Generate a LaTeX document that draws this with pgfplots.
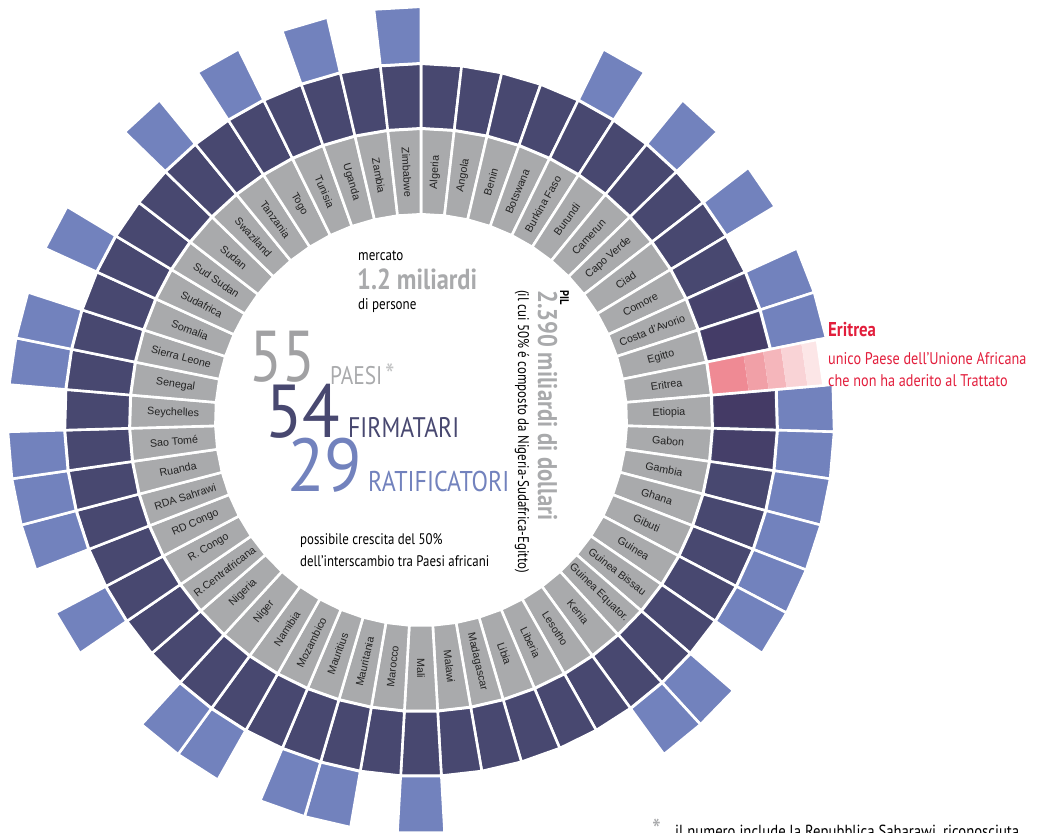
\documentclass[border=0pt]{standalone}
\usepackage{pgfplots}
\usepackage{pgfplotstable}
\pgfplotsset{compat=1.18}
\usepackage{fontspec}
\setmainfont{Liberation Sans}
\newfontfamily\cond[FakeStretch=0.84]{PT Sans}
\newfontfamily\condw[FakeStretch=0.92]{PT Sans}
\definecolor{cgray}{RGB}{169,170,172}
\definecolor{cdark}{RGB}{72,72,112}
\definecolor{cblue}{RGB}{114,130,189}
\definecolor{cred}{RGB}{226,30,60}
\definecolor{ctxt}{RGB}{35,35,35}
\definecolor{ctint}{RGB}{60,30,80}
\definecolor{pkA}{RGB}{239,138,148}
\definecolor{pkB}{RGB}{241,160,167}
\definecolor{pkC}{RGB}{245,182,187}
\definecolor{pkD}{RGB}{249,211,214}
\definecolor{pkE}{RGB}{252,230,231}
\newcommand\lblfont{\fontsize{10.7}{12.5}\selectfont}

\pgfplotstableread[col sep=semicolon]{
country;signed;ratified
Algeria;1;0
Angola;1;0
Benin;1;0
Botswana;1;0
Burkina Faso;1;1
Burundi;1;0
Camerun;1;1
Capo Verde;1;0
Ciad;1;1
Comore;1;0
Costa d’Avorio;1;1
Egitto;1;1
Eritrea;0;0
Etiopia;1;1
Gabon;1;1
Gambia;1;1
Ghana;1;1
Gibuti;1;1
Guinea;1;1
Guinea Bissau;1;0
Guinea Equator.;1;1
Kenia;1;1
Lesotho;1;0
Liberia;1;0
Libia;1;0
Madagascar;1;0
Malawi;1;0
Mali;1;1
Marocco;1;0
Mauritania;1;1
Mauritius;1;1
Mozambico;1;0
Namibia;1;1
Niger;1;1
Nigeria;1;0
R.Centrafricana;1;0
R. Congo;1;1
RD Congo;1;0
RDA Sahrawi;1;1
Ruanda;1;1
Sao Tomé;1;1
Seychelles;1;0
Senegal;1;1
Sierra Leone;1;1
Somalia;1;0
Sudafrica;1;1
Sud Sudan;1;0
Sudan;1;0
Swaziland;1;1
Tanzania;1;0
Togo;1;1
Tunisia;1;0
Uganda;1;1
Zambia;1;0
Zimbabwe;1;1
}\africa

\begin{document}
\begin{tikzpicture}[x=1pt,y=1pt]
\useasboundingbox (0,0) rectangle (1037,833);
\clip (0,0) rectangle (1037,833);
\begin{axis}[at={(0,0)}, anchor=south west, scale only axis,
  width=1037pt, height=833pt,
  xmin=-421, xmax=616, ymin=-413, ymax=420,
  hide axis, clip=false]
\pgfplotsforeachungrouped \i in {0,...,54}{%
  \pgfplotstablegetelem{\i}{country}\of\africa \let\cname\pgfplotsretval
  \pgfplotstablegetelem{\i}{signed}\of\africa \let\csig\pgfplotsretval
  \pgfplotstablegetelem{\i}{ratified}\of\africa \let\crat\pgfplotsretval
  \pgfmathsetmacro\aA{90-\i*(360/55)}%
  \pgfmathsetmacro\aB{90-(\i+1)*(360/55)}%
  \pgfmathsetmacro\aM{90-(\i+0.5)*(360/55)}%
  \pgfmathsetmacro\lx{248*cos(\aM)}%
  \pgfmathsetmacro\ly{248*sin(\aM)}%
  \pgfmathsetmacro\rot{\aM<-90.01 ? \aM+180 : \aM}%
  \edef\cmd{\noexpand\addplot[fill=cgray,draw=white,line width=2.6pt,data cs=polar] coordinates {(\aA,205.7) (\aB,205.7) (\aB,291.3) (\aA,291.3)} -- cycle;}\cmd
  \ifnum\csig=1
    \edef\cmd{\noexpand\addplot[fill=cdark,draw=white,line width=2.6pt,data cs=polar] coordinates {(\aA,291.7) (\aB,291.7) (\aB,356.3) (\aA,356.3)} -- cycle;}\cmd
  \fi
  \ifnum\crat=1
    \edef\cmd{\noexpand\addplot[fill=cblue,draw=white,line width=2.6pt,data cs=polar] coordinates {(\aA,356.7) (\aB,356.7) (\aB,413.3) (\aA,413.3)} -- cycle;}\cmd
  \fi
  \edef\cmd{\noexpand\node[rotate=\rot,text=ctxt,font=\noexpand\lblfont] at (axis cs:\lx,\ly) {\cname};}\cmd
}
% faint tint on the neighbours of Eritrea
\addplot[fill=ctint,fill opacity=0.12,draw=none,data cs=polar] coordinates {(23.9,294) (18.4,294) (18.4,354) (23.9,354)} -- cycle;
\addplot[fill=ctint,fill opacity=0.28,draw=none,data cs=polar] coordinates {(17.6,294) (11.8,294) (11.8,354) (17.6,354)} -- cycle;
\addplot[fill=ctint,fill opacity=0.32,draw=none,data cs=polar] coordinates {(4.55,294) (-1.2,294) (-1.2,354) (4.55,354)} -- cycle;
\addplot[fill=ctint,fill opacity=0.2,draw=none,data cs=polar] coordinates {(-2.0,294) (-7.8,294) (-7.8,354) (-2.0,354)} -- cycle;
% Eritrea: not a signatory (faded band)
\addplot[fill=pkA,draw=none,data cs=polar] coordinates {(11.4545,291.7) (4.9091,291.7) (4.9091,329) (11.4545,329)} -- cycle;
\addplot[fill=pkB,draw=none,data cs=polar] coordinates {(11.4545,329) (4.9091,329) (4.9091,349) (11.4545,349)} -- cycle;
\addplot[fill=pkC,draw=none,data cs=polar] coordinates {(11.4545,349) (4.9091,349) (4.9091,367) (11.4545,367)} -- cycle;
\addplot[fill=pkD,draw=none,data cs=polar] coordinates {(11.4545,367) (4.9091,367) (4.9091,388) (11.4545,388)} -- cycle;
\addplot[fill=pkE,draw=none,data cs=polar] coordinates {(11.4545,388) (4.9091,388) (4.9091,404) (11.4545,404)} -- cycle;
\addplot[draw=white,line width=2.6pt,data cs=polar] coordinates {(11.4545,291.7) (4.9091,291.7) (4.9091,404) (11.4545,404)} -- cycle;
\end{axis}

% central texts
\node[anchor=base west,inner sep=0,font=\cond\fontsize{15.5}{17}\selectfont] at (358,572) {mercato};
\node[anchor=base west,inner sep=0,text=cgray,font=\cond\bfseries\fontsize{29}{32}\selectfont] at (357,543) {1.2 miliardi};
\node[anchor=base west,inner sep=0,font=\cond\fontsize{15.5}{17}\selectfont] at (358,523) {di persone};

\node[anchor=base west,inner sep=0,text=cgray!95!black,font=\cond\fontsize{72}{74}\selectfont] at (249,451) {55};
\node[anchor=base west,inner sep=0,text=cgray,font=\cond\fontsize{25.5}{27}\selectfont] at (330,448) {PAESI};
\node[anchor=north west,inner sep=0,text=cgray!70,font=\cond\fontsize{32}{34}\selectfont] at (385,470) {*};
\node[anchor=base west,inner sep=0,text=cdark,font=\condw\fontsize{75}{77}\selectfont] at (265,395) {54};
\node[anchor=base west,inner sep=0,text=cdark,font=\cond\fontsize{28.3}{30}\selectfont] at (348,395) {FIRMATARI};
\node[anchor=base west,inner sep=0,text=cblue,font=\condw\fontsize{75}{77}\selectfont] at (287,341) {29};
\node[anchor=base west,inner sep=0,text=cblue,font=\cond\fontsize{28.6}{30}\selectfont] at (368,341) {RATIFICATORI};

\node[anchor=base west,inner sep=0,font=\cond\fontsize{15.3}{17}\selectfont] at (300,288) {possibile crescita del 50\%};
\node[anchor=base west,inner sep=0,font=\cond\fontsize{15.3}{17}\selectfont] at (300,266) {dell’interscambio tra Paesi africani};

\node[rotate=-90,anchor=base west,inner sep=0,font=\cond\bfseries\fontsize{12.5}{14}\selectfont] at (560,543) {PIL};
\node[rotate=-90,anchor=base west,inner sep=0,text=cgray,font=\cond\bfseries\fontsize{27}{29}\selectfont] at (538,543) {2.390 miliardi di dollari};
\node[rotate=-90,anchor=base west,inner sep=0,font=\cond\fontsize{15.4}{17}\selectfont] at (518,543) {(il cui 50\% é composto da Nigeria-Sudafrica-Egitto)};

\node[anchor=base west,inner sep=0,text=cred,font=\cond\bfseries\fontsize{20}{22}\selectfont] at (828,496) {Eritrea};
\node[anchor=base west,inner sep=0,text=cred,font=\cond\fontsize{16.9}{19}\selectfont] at (828,468) {unico Paese dell’Unione Africana};
\node[anchor=base west,inner sep=0,text=cred,font=\cond\fontsize{16.9}{19}\selectfont] at (828,446) {che non ha aderito al Trattato};

\node[anchor=north west,inner sep=0,text=cgray,font=\cond\fontsize{30}{32}\selectfont] at (652,14) {*};
\node[anchor=base west,inner sep=0,font=\cond\fontsize{17.5}{19}\selectfont] at (675,-5) {il numero include la Repubblica Saharawi, riconosciuta};
\end{tikzpicture}
\end{document}
